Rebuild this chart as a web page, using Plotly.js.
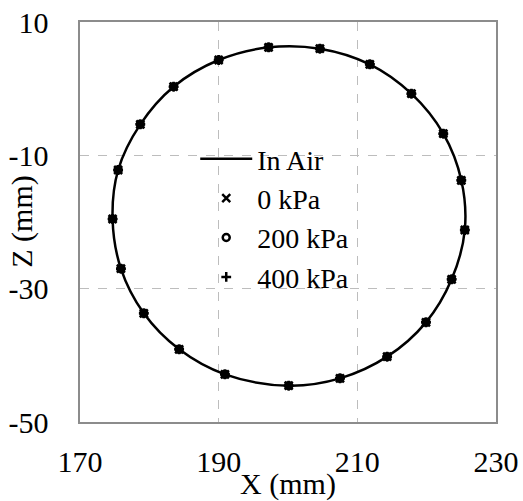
<!DOCTYPE html>
<html>
<head>
<meta charset="utf-8">
<script src="https://cdn.plot.ly/plotly-3.0.1.min.js"></script>
<style>
html,body{margin:0;padding:0;background:#fff;}
#chart{width:523px;height:501px;}
</style>
</head>
<body>
<div id="chart"></div>
<script>
var xAir = [197.2, 204.6, 211.8, 217.8, 222.4, 225.0, 225.5, 223.6, 219.9, 214.3, 207.5, 200.1, 190.9, 184.3, 179.2, 175.9, 174.7, 175.5, 178.7, 183.5, 190.0, 197.2];
var zAir = [6.2, 6.0, 3.65, -0.75, -6.75, -13.75, -21.2, -28.6, -35.05, -40.2, -43.45, -44.55, -42.85, -39.1, -33.7, -27.0, -19.55, -12.2, -5.35, 0.3, 4.3, 6.2];

var x0 = [197.2, 204.6, 211.8, 217.8, 222.4, 225.0, 225.5, 223.6, 219.9, 214.3, 207.5, 200.1, 190.9, 184.3, 179.2, 175.9, 174.7, 175.5, 178.7, 183.5, 190.0];
var z0 = [6.2, 6.0, 3.65, -0.75, -6.75, -13.75, -21.2, -28.6, -35.05, -40.2, -43.45, -44.55, -42.85, -39.1, -33.7, -27.0, -19.55, -12.2, -5.35, 0.3, 4.3];

var x200 = [197.2, 204.6, 211.8, 217.8, 222.4, 225.0, 225.5, 223.6, 219.9, 214.3, 207.5, 200.1, 190.9, 184.3, 179.2, 175.9, 174.7, 175.5, 178.7, 183.5, 190.0];
var z200 = [6.2, 6.0, 3.65, -0.75, -6.75, -13.75, -21.2, -28.6, -35.05, -40.2, -43.45, -44.55, -42.85, -39.1, -33.7, -27.0, -19.55, -12.2, -5.35, 0.3, 4.3];

var x400 = [197.2, 204.6, 211.8, 217.8, 222.4, 225.0, 225.5, 223.6, 219.9, 214.3, 207.5, 200.1, 190.9, 184.3, 179.2, 175.9, 174.7, 175.5, 178.7, 183.5, 190.0];
var z400 = [6.2, 6.0, 3.65, -0.75, -6.75, -13.75, -21.2, -28.6, -35.05, -40.2, -43.45, -44.55, -42.85, -39.1, -33.7, -27.0, -19.55, -12.2, -5.35, 0.3, 4.3];

var seriesNames = ["In Air", "0 kPa", "200 kPa", "400 kPa"];
var xTicks = [170, 190, 210, 230];
var zTicks = [-50, -30, -10, 10];

var FONT = "Liberation Serif";

var traces = [
  {x: xAir, y: zAir, name: seriesNames[0], mode: "lines", type: "scatter",
   line: {color: "#000", width: 2.5, shape: "spline", smoothing: 1}},
  {x: x0, y: z0, name: seriesNames[1], mode: "markers", type: "scatter",
   marker: {symbol: "x-thin", size: 8, color: "#000", line: {color: "#000", width: 2.5}}},
  {x: x200, y: z200, name: seriesNames[2], mode: "markers", type: "scatter",
   marker: {symbol: "circle-open", size: 7, color: "#000", line: {color: "#000", width: 2.5}}},
  {x: x400, y: z400, name: seriesNames[3], mode: "markers", type: "scatter",
   marker: {symbol: "cross-thin", size: 7, color: "#000", line: {color: "#000", width: 2.5}}}
];

var layout = {
  width: 523, height: 501,
  margin: {l: 80, r: 27, t: 22, b: 79},
  paper_bgcolor: "#fff", plot_bgcolor: "#fff",
  font: {family: FONT, size: 30, color: "#000"},
  showlegend: true,
  legend: {x: 0.277, y: 0.72, xanchor: "left", yanchor: "top", bgcolor: "rgba(0,0,0,0)",
           font: {family: FONT, size: 28, color: "#000"}, itemwidth: 52, traceorder: "normal"},
  xaxis: {
    range: [170, 230], tickvals: xTicks, ticktext: xTicks.map(String),
    showgrid: true, gridcolor: "#bdbdbd", griddash: "dash", gridwidth: 1.3,
    showline: true, linecolor: "#8c8c8c", linewidth: 1.6, mirror: true,
    zeroline: false, ticks: "", ticklabelstandoff: 12,
    title: {text: "X (mm)", font: {family: FONT, size: 30}, standoff: 0}
  },
  yaxis: {
    range: [-50, 10], tickvals: zTicks, ticktext: zTicks.map(String),
    showgrid: true, gridcolor: "#bdbdbd", griddash: "dash", gridwidth: 1.3,
    showline: true, linecolor: "#8c8c8c", linewidth: 1.6, mirror: true,
    zeroline: false, ticks: "", ticklabelstandoff: 24
  },
  annotations: [
    {text: "Z (mm)", xref: "paper", yref: "paper", x: -0.14, y: 0.5, xanchor: "center", yanchor: "middle",
     textangle: -90, showarrow: false, font: {family: FONT, size: 30, color: "#000"}}
  ]
};

Plotly.newPlot("chart", traces, layout, {displayModeBar: false, staticPlot: true});
</script>
</body>
</html>
